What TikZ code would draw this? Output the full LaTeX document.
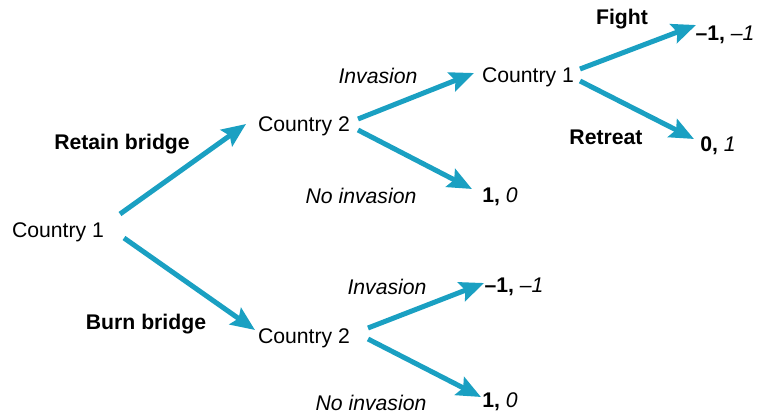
\documentclass[tikz,border=0pt]{standalone}
\usepackage{fontspec}
\setmainfont{Liberation Sans}
\usetikzlibrary{arrows.meta}
\tikzset{
  lbl/.style={inner sep=0pt, yshift=-2.5pt, font=\fontsize{21.2}{24}\selectfont},
  move/.style={lbl, font=\fontsize{21.2}{24}\selectfont\bfseries},
  act/.style={lbl, font=\fontsize{21.2}{24}\selectfont\itshape},
  branch/.style={draw=branchblue, line width=5pt,
    -{Stealth[length=24pt, width=20pt, inset=4pt]}},
}
\definecolor{branchblue}{HTML}{1AA0C2}
\newcommand{\payoff}[2]{\textbf{#1,} \textit{#2}}
\begin{document}
\begin{tikzpicture}[x=1pt, y=-1pt]
  \useasboundingbox (0,0) rectangle (765,415);

  % decision points
  \node[lbl] (root) at (58,230) {Country 1};
  \node[lbl] (keep) at (304,124) {Country 2};
  \node[lbl] (burn) at (304,336) {Country 2};
  \node[lbl] (again) at (528,75) {Country 1};

  % outcomes
  \node[lbl] (fight) at (725,32) {\payoff{–1}{–1}};
  \node[lbl] (retreat) at (718,143) {\payoff{0}{1}};
  \node[lbl] (peaceA) at (500,194) {\payoff{1}{0}};
  \node[lbl] (warB) at (514,284) {\payoff{–1}{–1}};
  \node[lbl] (peaceB) at (500,399) {\payoff{1}{0}};

  % move labels
  \node[move] (retainlbl) at (122,142) {Retain bridge};
  \node[move] (burnlbl) at (146,322) {Burn bridge};
  \node[move] (fightlbl) at (622,17) {Fight};
  \node[move] (retreatlbl) at (606,135) {Retreat};
  \node[act] (invA) at (378,73) {Invasion};
  \node[act] (noinvA) at (361,193) {No invasion};
  \node[act] (invB) at (387,284) {Invasion};
  \node[act] (noinvB) at (371,400) {No invasion};

  % branch end points
  \coordinate (root-up) at (120,214);
  \coordinate (root-dn) at (124,238);
  \coordinate (keep-in) at (246,124);
  \coordinate (burn-in) at (255,330);
  \coordinate (keep-up) at (358,119);
  \coordinate (keep-dn) at (358,130);
  \coordinate (again-in) at (474,73);
  \coordinate (peaceA-in) at (472,189);
  \coordinate (again-up) at (580,69);
  \coordinate (again-dn) at (580,81);
  \coordinate (fight-in) at (696,25);
  \coordinate (retreat-in) at (694,139);
  \coordinate (burn-up) at (368,328);
  \coordinate (burn-dn) at (368,339);
  \coordinate (warB-in) at (484,283);
  \coordinate (peaceB-in) at (481,397);

  % branches
  \draw[branch] (root-up) -- (keep-in);
  \draw[branch] (root-dn) -- (burn-in);
  \draw[branch] (keep-up) -- (again-in);
  \draw[branch] (keep-dn) -- (peaceA-in);
  \draw[branch] (again-up) -- (fight-in);
  \draw[branch] (again-dn) -- (retreat-in);
  \draw[branch] (burn-up) -- (warB-in);
  \draw[branch] (burn-dn) -- (peaceB-in);
\end{tikzpicture}
\end{document}
